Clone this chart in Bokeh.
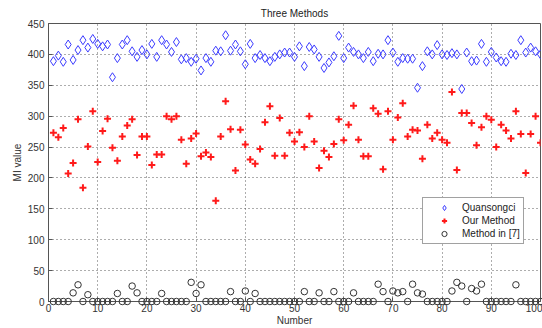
from bokeh.plotting import figure
from bokeh.models import Range1d, FixedTicker, Legend, LegendItem
from bokeh.embed import file_html
from bokeh.resources import INLINE

numbers = list(range(1, 101))

quansongci = [389, 398, 388, 416, 391, 407, 423, 411, 425, 417,
              413, 416, 363, 394, 416, 423, 405, 396, 407, 400,
              417, 396, 423, 416, 404, 420, 392, 394, 388, 393,
              374, 394, 388, 406, 405, 431, 406, 416, 405, 384,
              417, 394, 399, 394, 389, 396, 400, 403, 403, 396,
              413, 381, 412, 408, 396, 378, 387, 397, 430, 394,
              411, 404, 400, 394, 404, 389, 401, 400, 423, 403,
              388, 394, 393, 393, 346, 381, 405, 400, 415, 400,
              399, 402, 400, 344, 403, 389, 390, 417, 388, 404,
              395, 389, 388, 401, 399, 423, 403, 411, 405, 400]

our_method = [273, 266, 281, 207, 224, 295, 184, 251, 308, 226,
              276, 296, 249, 228, 267, 285, 295, 237, 267, 267,
              221, 238, 238, 300, 295, 300, 262, 223, 264, 272,
              235, 241, 234, 163, 267, 324, 279, 212, 278, 254,
              230, 223, 247, 290, 316, 236, 297, 236, 273, 259,
              274, 250, 300, 259, 216, 244, 234, 255, 295, 261,
              286, 317, 262, 235, 235, 313, 304, 214, 308, 262,
              298, 321, 267, 278, 277, 231, 286, 264, 273, 262,
              257, 339, 213, 305, 305, 289, 253, 282, 300, 294,
              250, 286, 277, 264, 308, 271, 208, 271, 300, 257]

method7 = [0, 0, 0, 0, 14, 27, 0, 11, 0, 0,
           0, 0, 0, 13, 0, 0, 25, 14, 0, 0,
           0, 0, 13, 0, 0, 0, 0, 0, 31, 13,
           27, 0, 0, 0, 0, 0, 16, 0, 0, 17,
           0, 13, 0, 0, 0, 0, 0, 0, 0, 0,
           0, 16, 0, 0, 14, 0, 0, 16, 0, 0,
           0, 14, 0, 0, 0, 0, 28, 16, 0, 17,
           14, 16, 0, 28, 14, 12, 0, 0, 0, 0,
           0, 17, 31, 25, 0, 21, 17, 28, 0, 0,
           0, 0, 0, 0, 27, 0, 0, 0, 0, 0]

x_ticks = list(range(0, 101, 10))
y_ticks = list(range(0, 451, 50))

FONT = "Liberation Sans"

p = figure(width=542, height=328, output_backend="svg", toolbar_location=None,
           x_range=Range1d(0, 100), y_range=Range1d(0, 450),
           title="Three Methods", min_border_left=48, min_border_right=2,
           min_border_top=23, min_border_bottom=0)
p.title.align = "center"
p.title.text_font = FONT
p.title.text_font_size = "10px"
p.title.text_font_style = "normal"
p.title.text_color = "#222222"
p.title.standoff = 9

for ax, ticks, label in ((p.xaxis[0], x_ticks, "Number"), (p.yaxis[0], y_ticks, "MI value")):
    ax.ticker = FixedTicker(ticks=ticks)
    ax.axis_label = label
    ax.axis_label_text_font = FONT
    ax.axis_label_text_font_size = "10px"
    ax.axis_label_text_font_style = "normal"
    ax.axis_label_text_color = "#333333"
    ax.major_label_text_font = FONT
    ax.major_label_text_font_size = "10px"
    ax.major_label_text_color = "#333333"
    ax.major_tick_in = 4
    ax.major_tick_out = 0
    ax.minor_tick_in = 0
    ax.minor_tick_out = 0
    ax.axis_line_color = "#555555"
    ax.major_tick_line_color = "#555555"

p.xaxis[0].major_label_standoff = 2
p.xaxis[0].axis_label_standoff = 0
p.yaxis[0].major_label_standoff = 4
p.yaxis[0].axis_label_standoff = 2

p.outline_line_color = "#555555"
p.grid.grid_line_color = "#333333"
p.grid.grid_line_dash = "1 3"
p.grid.grid_line_width = 1
p.grid.grid_line_alpha = 0.8

r1 = p.scatter(numbers, quansongci, marker="diamond", size=9, fill_color=None,
               line_color="#3c3cff", line_width=1)
r2 = p.scatter(numbers, our_method, marker="cross", size=7, line_color="#ff1a1a",
               line_width=2)
r3 = p.scatter(numbers, method7, marker="circle", size=6.5, fill_color=None,
               line_color="#333333", line_width=1, level="overlay")

legend = Legend(items=[LegendItem(label="Quansongci", renderers=[r1]),
                       LegendItem(label="Our Method", renderers=[r2]),
                       LegendItem(label="Method in [7]", renderers=[r3])],
                location=(374, 57))
legend.label_text_font = FONT
legend.label_text_font_size = "10px"
legend.label_text_color = "#222222"
legend.padding = 3
legend.margin = 0
legend.spacing = 0
legend.glyph_width = 36
legend.glyph_height = 13
legend.label_height = 13
legend.label_standoff = 0
legend.border_line_color = "#444444"
legend.border_line_width = 1
legend.background_fill_alpha = 1
p.add_layout(legend)

open("out.html", "w").write(file_html(p, INLINE))
